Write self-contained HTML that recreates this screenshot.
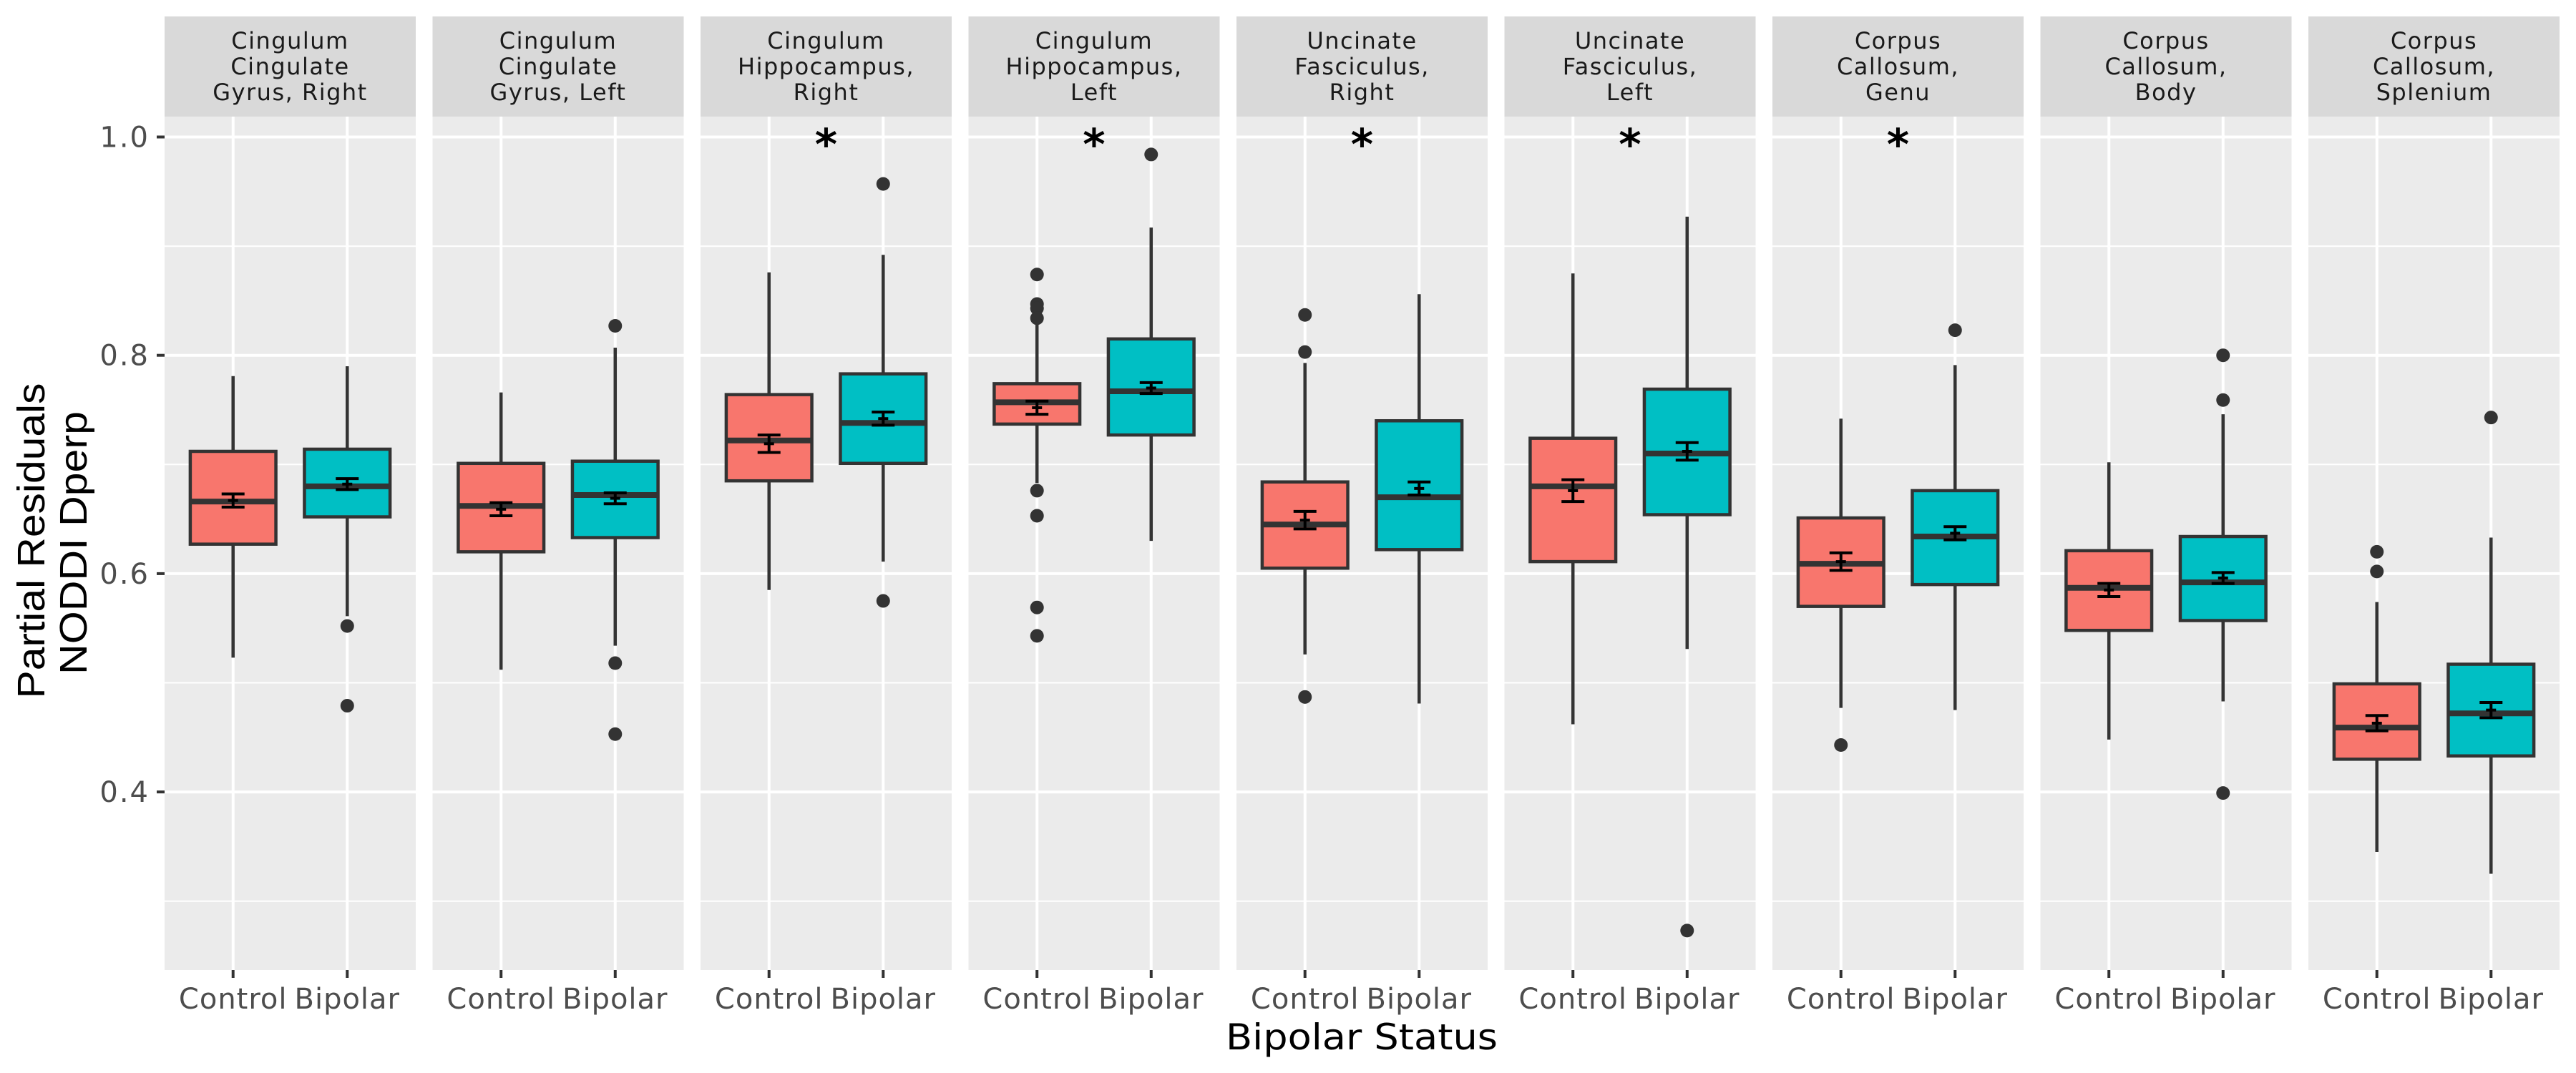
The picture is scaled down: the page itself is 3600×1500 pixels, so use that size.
<!DOCTYPE html>
<html><head><meta charset="utf-8"><style>
html,body{margin:0;padding:0;background:#fff;}
svg{display:block;}
text{font-family:"DejaVu Sans","Liberation Sans",sans-serif;}
</style></head>
<body>
<svg id="chart" width="3600" height="1500" viewBox="0 0 3600 1500" xmlns="http://www.w3.org/2000/svg"></svg>
<script>
const panelTitles = [
 ["Cingulum","Cingulate","Gyrus, Right"],
 ["Cingulum","Cingulate","Gyrus, Left"],
 ["Cingulum","Hippocampus,","Right"],
 ["Cingulum","Hippocampus,","Left"],
 ["Uncinate","Fasciculus,","Right"],
 ["Uncinate","Fasciculus,","Left"],
 ["Corpus","Callosum,","Genu"],
 ["Corpus","Callosum,","Body"],
 ["Corpus","Callosum,","Splenium"]
];
const groups = ["Control","Bipolar"];
const significant = [false,false,true,true,true,true,true,false,false];
// [lowWhisker, Q1, median, Q3, highWhisker]
const controlBox = [
 [0.523,0.627,0.666,0.712,0.781],
 [0.512,0.620,0.662,0.701,0.766],
 [0.585,0.685,0.722,0.764,0.876],
 [0.683,0.737,0.757,0.774,0.829],
 [0.526,0.605,0.645,0.684,0.793],
 [0.462,0.611,0.680,0.724,0.875],
 [0.477,0.570,0.609,0.651,0.742],
 [0.448,0.548,0.587,0.621,0.702],
 [0.345,0.430,0.459,0.499,0.574]
];
const bipolarBox = [
 [0.561,0.652,0.680,0.714,0.790],
 [0.534,0.633,0.672,0.703,0.807],
 [0.611,0.701,0.738,0.783,0.892],
 [0.630,0.727,0.767,0.815,0.917],
 [0.481,0.622,0.670,0.740,0.856],
 [0.531,0.654,0.710,0.769,0.927],
 [0.475,0.590,0.634,0.676,0.791],
 [0.483,0.557,0.592,0.634,0.746],
 [0.325,0.433,0.472,0.517,0.633]
];
const controlOutliers = [
 [], [], [], [0.874,0.847,0.843,0.834,0.676,0.653,0.569,0.543],
 [0.837,0.803,0.487], [], [0.443], [], [0.620,0.602]
];
const bipolarOutliers = [
 [0.552,0.479], [0.827,0.518,0.453], [0.957,0.575], [0.984],
 [], [0.273], [0.823], [0.800,0.759,0.399], [0.743]
];
const controlMean = [0.667,0.659,0.719,0.752,0.649,0.676,0.611,0.585,0.463];
const controlSE   = [0.006,0.006,0.008,0.006,0.008,0.010,0.008,0.006,0.007];
const bipolarMean = [0.682,0.669,0.742,0.770,0.678,0.712,0.637,0.596,0.475];
const bipolarSE   = [0.005,0.005,0.006,0.005,0.006,0.008,0.006,0.005,0.007];
const yMajorTicks = [0.4,0.6,0.8,1.0];
const yMajorLabels = ["0.4","0.6","0.8","1.0"];
const yMinorTicks = [0.3,0.5,0.7,0.9];

const NS="http://www.w3.org/2000/svg";
const svg=document.getElementById('chart');
function mk(tag,attrs,parent){const e=document.createElementNS(NS,tag);for(const k in attrs)e.setAttribute(k,attrs[k]);(parent||svg).appendChild(e);return e;}
const PANEL_X0=230, PANEL_PITCH=374.5, PANEL_W=351;
const PTOP=163, PBOT=1356, STRIP_TOP=23;
function yScale(v){return 191.5+(1-v)*1526;}
function xScale(panel,g){return PANEL_X0+panel*PANEL_PITCH+PANEL_W*((g+1-0.4)/2.2);}
const boxHalf=PANEL_W*(0.75/2.2)/2;
const fills=["#F8766D","#00BFC4"];

yMajorTicks.forEach((v,i)=>{
  const t=mk('line',{x1:219,x2:230,y1:yScale(v),y2:yScale(v),stroke:'#333',"stroke-width":4});
  
  
  const l=mk('text',{x:209,y:yScale(v)+14,"text-anchor":"end","font-size":40,fill:"#4d4d4d","letter-spacing":2});
  l.textContent=yMajorLabels[i];
  
  
});

for(let p=0;p<9;p++){
  const px=PANEL_X0+p*PANEL_PITCH;
  const g=mk('g',{});
  
  
  const bg=mk('rect',{x:px,y:PTOP,width:PANEL_W,height:PBOT-PTOP,fill:'#ebebeb'},g);
  
  
  yMinorTicks.forEach(v=>{const ln=mk('line',{x1:px,x2:px+PANEL_W,y1:yScale(v),y2:yScale(v),stroke:'#fff',"stroke-width":2},g);
    
    });
  yMajorTicks.forEach(v=>{const ln=mk('line',{x1:px,x2:px+PANEL_W,y1:yScale(v),y2:yScale(v),stroke:'#fff',"stroke-width":4},g);
    
    });
  groups.forEach((gn,gi)=>{const x=xScale(p,gi);
    const ln=mk('line',{x1:x,x2:x,y1:PTOP,y2:PBOT,stroke:'#fff',"stroke-width":4},g);
    
    
    const tk=mk('line',{x1:x,x2:x,y1:PBOT,y2:PBOT+11,stroke:'#333',"stroke-width":4},g);
    
    
    const tl=mk('text',{x:x,y:1410,"text-anchor":"middle","font-size":40,fill:"#4d4d4d","letter-spacing":1},g);
    tl.textContent=gn;
    
    
  });
  const st=mk('rect',{x:px,y:STRIP_TOP,width:PANEL_W,height:PTOP-STRIP_TOP,fill:'#d9d9d9'},g);
  
  
  panelTitles[p].forEach((line,li)=>{
    const t=mk('text',{x:px+PANEL_W/2,y:68+li*36,"text-anchor":"middle","font-size":32,fill:"#1a1a1a","letter-spacing":1.5},g);
    t.textContent=line;
    
    
  });
  const boxes=[controlBox[p],bipolarBox[p]];
  const outs=[controlOutliers[p],bipolarOutliers[p]];
  const means=[controlMean[p],bipolarMean[p]];
  const ses=[controlSE[p],bipolarSE[p]];
  for(let gi=0;gi<2;gi++){
    const b=boxes[gi], x=xScale(p,gi);
    const w1=mk('line',{x1:x,x2:x,y1:yScale(b[4]),y2:yScale(b[3]),stroke:'#333',"stroke-width":4.5},g);
    
    
    const w2=mk('line',{x1:x,x2:x,y1:yScale(b[1]),y2:yScale(b[0]),stroke:'#333',"stroke-width":4.5},g);
    
    
    const r=mk('rect',{x:x-boxHalf,y:yScale(b[3]),width:2*boxHalf,height:yScale(b[1])-yScale(b[3]),fill:fills[gi],stroke:'#333',"stroke-width":4.5},g);
    
    
    const m=mk('line',{x1:x-boxHalf,x2:x+boxHalf,y1:yScale(b[2]),y2:yScale(b[2]),stroke:'#333',"stroke-width":8},g);
    
    
    outs[gi].forEach(v=>{const c=mk('circle',{cx:x,cy:yScale(v),r:9.5,fill:'#333'},g);
      
      });
    const yt=yScale(means[gi]+ses[gi]), yb=yScale(means[gi]-ses[gi]), ym=yScale(means[gi]);
    const eg=mk('g',{stroke:'#000',"stroke-width":4},g);
    
    
    mk('line',{x1:x,x2:x,y1:yt,y2:yb},eg);
    mk('line',{x1:x-16,x2:x+16,y1:yt,y2:yt},eg);
    mk('line',{x1:x-16,x2:x+16,y1:yb,y2:yb},eg);
    mk('line',{x1:x-7,x2:x+7,y1:ym,y2:ym},eg);
  }
  if(significant[p]){
    const s=mk('text',{x:px+PANEL_W/2,y:yScale(1.0)+31,"text-anchor":"middle","font-size":60,"font-weight":"bold",fill:'#000'},g);
    s.textContent='*';
    
    
  }
}
const yt1=mk('text',{x:0,y:0,transform:'translate(62,756) rotate(-90)',"text-anchor":"middle","font-size":54,fill:'#000',textLength:441,lengthAdjust:'spacingAndGlyphs',style:'font-family:"Liberation Sans Narrow","Liberation Sans",sans-serif'});
yt1.textContent='Partial Residuals';


const yt2=mk('text',{x:0,y:0,transform:'translate(121,759) rotate(-90)',"text-anchor":"middle","font-size":54,fill:'#000',textLength:368,lengthAdjust:'spacingAndGlyphs',style:'font-family:"Liberation Sans Narrow","Liberation Sans",sans-serif'});
yt2.textContent='NODDI Dperp';


const xt=mk('text',{x:1903,y:1467,"text-anchor":"middle","font-size":50,fill:'#000',textLength:380,lengthAdjust:'spacingAndGlyphs'});
xt.textContent='Bipolar Status';


</script>
</body></html>
